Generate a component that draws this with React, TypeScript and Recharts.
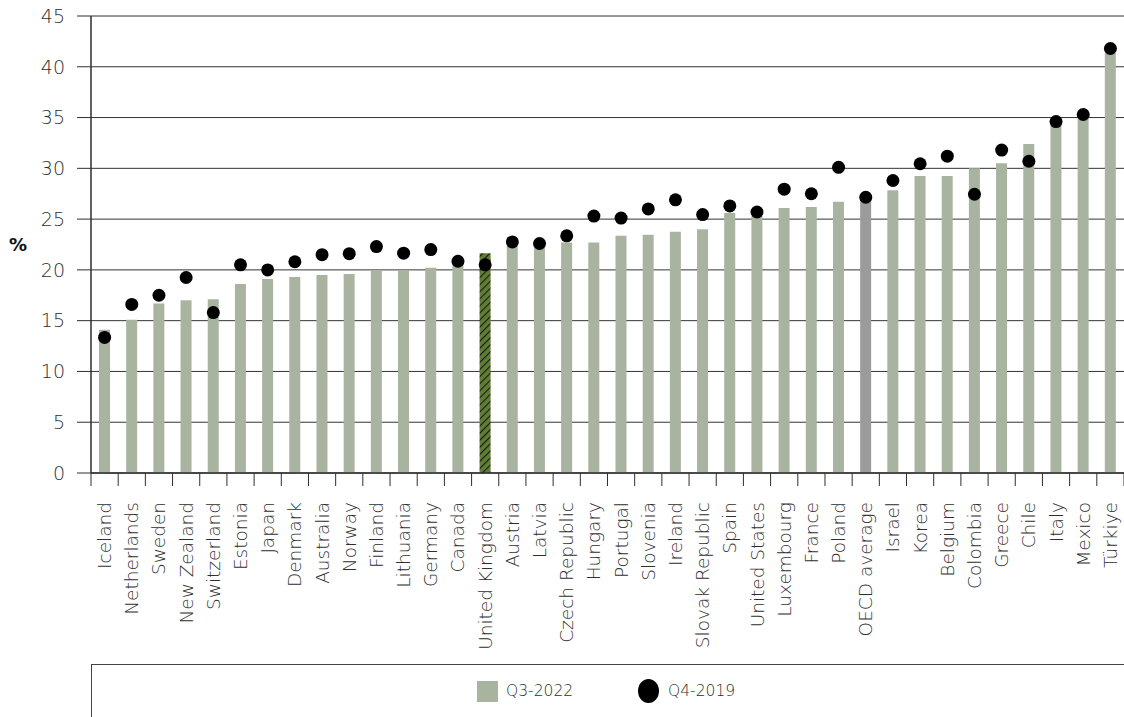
import { ComposedChart, Bar, Line, XAxis, YAxis, CartesianGrid, Cell } from 'recharts';

const FONT = '"DejaVu Sans", sans-serif';
const TEXT = '#2e2e2e';
const BAR = '#a8b4a0';
const OECD = '#9b9b9b';

const COUNTRIES = [
  'Iceland', 'Netherlands', 'Sweden', 'New Zealand', 'Switzerland', 'Estonia', 'Japan',
  'Denmark', 'Australia', 'Norway', 'Finland', 'Lithuania', 'Germany', 'Canada',
  'United Kingdom', 'Austria', 'Latvia', 'Czech Republic', 'Hungary', 'Portugal',
  'Slovenia', 'Ireland', 'Slovak Republic', 'Spain', 'United States', 'Luxembourg',
  'France', 'Poland', 'OECD average', 'Israel', 'Korea', 'Belgium', 'Colombia', 'Greece',
  'Chile', 'Italy', 'Mexico', 'Türkiye',
];

const Q3_2022 = [
  14.1, 15.1, 16.7, 17.0, 17.1, 18.6, 19.1, 19.3, 19.5, 19.6, 19.95, 20.0, 20.2, 20.5,
  21.65, 22.4, 22.3, 22.7, 22.7, 23.35, 23.45, 23.75, 24.0, 25.6, 25.7, 26.1, 26.2, 26.7,
  26.9, 27.85, 29.25, 29.25, 30.0, 30.5, 32.4, 34.3, 35.0, 41.4,
];

const Q4_2019 = [
  13.35, 16.6, 17.5, 19.25, 15.8, 20.5, 20.0, 20.8, 21.5, 21.6, 22.3, 21.65, 22.0, 20.85,
  20.5, 22.75, 22.6, 23.35, 25.3, 25.1, 26.0, 26.9, 25.45, 26.3, 25.7, 27.95, 27.5, 30.1,
  27.15, 28.8, 30.45, 31.2, 27.45, 31.8, 30.7, 34.6, 35.3, 41.8,
];

const Y_TICKS = [0, 5, 10, 15, 20, 25, 30, 35, 40, 45];

const data = COUNTRIES.map((name, i) => ({ name, q3: Q3_2022[i], q4: Q4_2019[i] }));

const PLOT_LEFT = 91;
const PLOT_WIDTH = 1124 - PLOT_LEFT;
const BAND = PLOT_WIDTH / COUNTRIES.length;

function barFill(name: string) {
  if (name === 'United Kingdom') return 'url(#ukHatch)';
  if (name === 'OECD average') return OECD;
  return BAR;
}

// ticks sit on the category boundaries, labels at the centre
function CountryTick({ x, y, payload, index }: any) {
  const left = x - BAND / 2;
  return (
    <g>
      <line x1={left} y1={y} x2={left} y2={y + 13} stroke={TEXT} strokeWidth={1} />
      {index === COUNTRIES.length - 1 && (
        <line x1={x + BAND / 2} y1={y} x2={x + BAND / 2} y2={y + 13} stroke={TEXT} strokeWidth={1} />
      )}
      <text
        x={x}
        y={y + 29}
        transform={`rotate(-90, ${x}, ${y + 29})`}
        textAnchor="end"
        dominantBaseline="central"
        fontSize={18.5}
        fontFamily={FONT}
        fontWeight={200}
        fill={TEXT}
      >
        {payload.value}
      </text>
    </g>
  );
}

export default function App() {
  return (
    <div style={{ position: 'absolute', left: 0, top: 0, width: 1124, height: 717, background: '#fff' }}>
      <ComposedChart
        width={1124}
        height={665}
        data={data}
        margin={{ top: 16, right: 0, left: 0, bottom: 0 }}
      >
        <defs>
          <pattern
            id="ukHatch"
            width="5"
            height="5"
            patternUnits="userSpaceOnUse"
            patternTransform="rotate(45)"
          >
            <rect width="5" height="5" fill="#5f7d33" />
            <line x1="0" y1="0" x2="0" y2="5" stroke="#1a1a1a" strokeWidth="2.2" />
          </pattern>
        </defs>
        <CartesianGrid vertical={false} stroke="#333" strokeWidth={1} />
        <XAxis
          dataKey="name"
          interval={0}
          height={192}
          tickSize={0}
          tickMargin={0}
          tickLine={false}
          axisLine={{ stroke: TEXT, strokeWidth: 1.5 }}
          tick={<CountryTick />}
        />
        <YAxis
          width={PLOT_LEFT}
          domain={[0, 45]}
          ticks={Y_TICKS}
          interval={0}
          tickSize={14}
          tickMargin={12}
          tickLine={{ stroke: TEXT }}
          axisLine={{ stroke: TEXT, strokeWidth: 1.5 }}
          tick={{ fontSize: 19, fontFamily: FONT, fontWeight: 200, fill: TEXT }}
          label={{
            value: '%',
            position: 'insideLeft',
            offset: 9,
            fontSize: 18,
            fontFamily: FONT,
            fontWeight: 700,
            fill: '#111',
          }}
        />
        <Bar dataKey="q3" name="Q3-2022" barSize={11} isAnimationActive={false}>
          {data.map((d) => (
            <Cell key={d.name} fill={barFill(d.name)} />
          ))}
        </Bar>
        <Line
          dataKey="q4"
          name="Q4-2019"
          stroke="none"
          dot={{ r: 6.5, fill: '#000', stroke: 'none' }}
          activeDot={false}
          isAnimationActive={false}
        />
      </ComposedChart>

      {/* Legend box */}
      <div
        style={{
          position: 'absolute',
          left: PLOT_LEFT,
          top: 664,
          width: 1124 - PLOT_LEFT,
          height: 53,
          borderTop: '1.5px solid #444',
          borderLeft: '1.5px solid #444',
          boxSizing: 'border-box',
          fontFamily: FONT,
          fontWeight: 200,
          fontSize: 15.5,
          color: TEXT,
        }}
      >
        <span style={{ position: 'absolute', left: 476 - PLOT_LEFT, top: 16, width: 21, height: 21, background: BAR }} />
        <span style={{ position: 'absolute', left: 505 - PLOT_LEFT, top: 15, lineHeight: '22px' }}>Q3-2022</span>
        <span
          style={{ position: 'absolute', left: 637 - PLOT_LEFT, top: 14, width: 21, height: 24, borderRadius: '50%', background: '#000' }}
        />
        <span style={{ position: 'absolute', left: 667 - PLOT_LEFT, top: 15, lineHeight: '22px' }}>Q4-2019</span>
      </div>
    </div>
  );
}
